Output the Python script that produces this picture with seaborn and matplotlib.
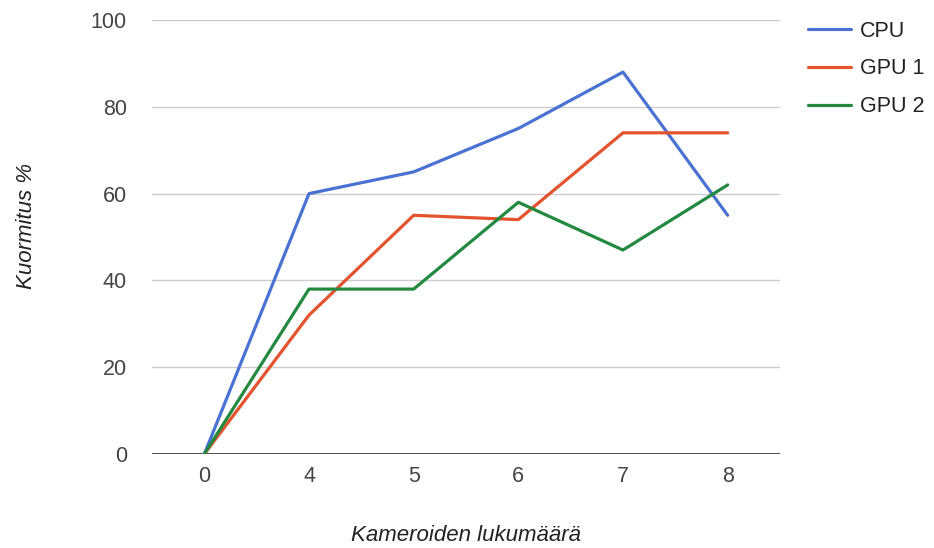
import matplotlib
matplotlib.use("Agg")
import matplotlib.pyplot as plt
import seaborn as sns
import pandas as pd

# Camera counts (categorical x axis) and load percentages per processor
cameras = ["0", "4", "5", "6", "7", "8"]
cpu = [0, 60, 65, 75, 88, 55]
gpu1 = [0, 32, 55, 54, 74, 74]
gpu2 = [0, 38, 38, 58, 47, 62]
series_names = ["CPU", "GPU 1", "GPU 2"]
colors = ["#4a72d3", "#e2532e", "#23893f"]
y_ticks = [0, 20, 40, 60, 80, 100]

df = pd.concat([
    pd.DataFrame({"Kamerat": cameras, "Kuormitus": vals, "Sarja": name})
    for name, vals in zip(series_names, [cpu, gpu1, gpu2])
], ignore_index=True)

sns.set_theme(style="white")
plt.rcParams["font.family"] = ["Liberation Sans", "DejaVu Sans"]

fig = plt.figure(figsize=(9.34, 5.48), dpi=100)
ax = fig.add_axes([152 / 934, 1 - 454 / 548, 628 / 934, 434 / 548])

sns.lineplot(data=df, x="Kamerat", y="Kuormitus", hue="Sarja",
             palette=colors, sort=False, linewidth=2.3, ax=ax, legend=True)

ax.set_xlim(-0.5, len(cameras) - 0.5)
ax.set_ylim(0, 100)
ax.set_yticks(y_ticks)
ax.set_yticklabels([str(v) for v in y_ticks])

ax.grid(axis="y", color="#cccccc", linewidth=1)
ax.grid(axis="x", visible=False)
ax.axhline(0, color="#333333", linewidth=1.2, zorder=1)
for side in ["top", "right", "left", "bottom"]:
    ax.spines[side].set_visible(False)

ax.tick_params(axis="both", length=0, labelsize=15.5, labelcolor="#444444")
ax.tick_params(axis="y", pad=18)
ax.tick_params(axis="x", pad=9)

ax.set_xlabel("Kameroiden lukumäärä", fontsize=16, style="italic", color="#222222")
ax.set_ylabel("Kuormitus %", fontsize=16, style="italic", color="#222222")
ax.xaxis.set_label_coords(0.5, -0.163)
ax.yaxis.set_label_coords(-0.183, 0.525)

handles, labels = ax.get_legend_handles_labels()
ax.legend(handles, labels, loc="upper left", bbox_to_anchor=(799 / 934, 1 - 12 / 548),
          bbox_transform=fig.transFigure, frameon=False, fontsize=15.5,
          handlelength=2.0, handletextpad=0.45, labelspacing=0.78,
          labelcolor="#222222", borderaxespad=0)

fig.savefig("out.png", dpi=100)
